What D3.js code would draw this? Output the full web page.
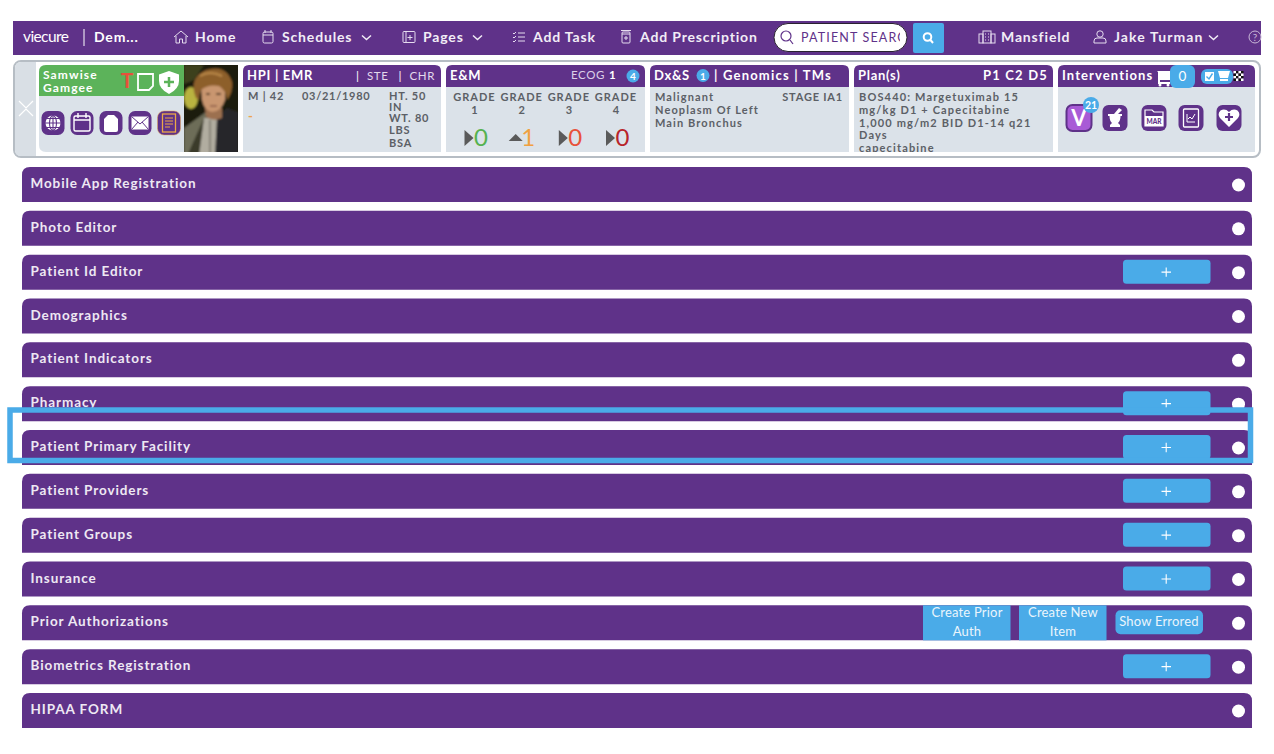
<!DOCTYPE html>
<html>
<head>
<meta charset="utf-8">
<style>
  html, body { margin: 0; padding: 0; background: #fff; overflow: hidden; }
  text { font-family: Lato, "Open Sans", sans-serif; }
</style>
<script src="https://d3js.org/d3.v7.min.js"></script>
</head>
<body>
<div id="page"></div>
<script>
const rowLabels = ["Mobile App Registration", "Photo Editor", "Patient Id Editor", "Demographics", "Patient Indicators", "Pharmacy", "Patient Primary Facility", "Patient Providers", "Patient Groups", "Insurance", "Prior Authorizations", "Biometrics Registration", "HIPAA FORM"];
const rowsWithPlus = ["Patient Id Editor", "Pharmacy", "Patient Primary Facility", "Patient Providers", "Patient Groups", "Insurance", "Biometrics Registration"];
const navLabels = ["Home", "Schedules", "Pages", "Add Task", "Add Prescription", "Mansfield", "Jake Turman"];
const navX = [195, 282, 423, 533, 640, 1001, 1114];
const navIcons = ["home", "cal", "page", "list", "rx", "bldg", "user"];
const navCarets = ["Schedules", "Pages", "Jake Turman"];
const panelTitles = ["HPI | EMR", "E&M", "Dx&S", "Plan(s)", "Interventions"];
const panelX = [243, 446, 650, 854, 1058];
const panelW = [198, 199, 199, 199, 197];
const panelSpacing = [0.7, 0.7, 0.7, 0.7, 1.1];
const grades = ["1", "2", "3", "4"];
const gradeValues = [0, 1, 0, 0];
const gradeColors = ["#55b24f", "#f0a040", "#e8523a", "#b8242a"];
const gradeArrowUp = [false, true, false, false];
const planLines = ["BOS440: Margetuximab 15", "mg/kg D1 + Capecitabine", "1,000 mg/m2 BID D1-14 q21", "Days", "capecitabine"];
const dxLines = ["Malignant", "Neoplasm Of Left", "Main Bronchus"];

const purple = "#5f3289", blue = "#4aabe8", grey = "#dbe2e9", bodyText = "#5c6066";

const svg = d3.select("#page").append("svg").attr("width", 1274).attr("height", 754);
svg.append("rect").attr("width", 1274).attr("height", 754).attr("fill", "#fff");

function label(g, x, y, s, size, fill, o) {
  o = o || {};
  return g.append("text").attr("x", x).attr("y", y).text(s)
    .attr("font-size", size).attr("fill", fill)
    .attr("font-weight", o.weight || 400)
    .attr("letter-spacing", o.ls === undefined ? 0.8 : o.ls)
    .attr("text-anchor", o.anchor || "start");
}

// only the top corners are round on the rows and panel headers
function topRound(x, y, w, h, r) {
  return `M${x},${y + h}V${y + r}Q${x},${y} ${x + r},${y}H${x + w - r}Q${x + w},${y} ${x + w},${y + r}V${y + h}Z`;
}

// ---- nav bar
const nav = svg.append("g");
nav.append("rect").attr("x", 13).attr("y", 21).attr("width", 1248).attr("height", 34).attr("fill", purple);
label(nav, 23, 42, "viecure", 15.5, "#fff", { ls: -0.6 });
nav.append("line").attr("x1", 84).attr("x2", 84).attr("y1", 29).attr("y2", 46).attr("stroke", "#fff");
label(nav, 94, 42, "Dem...", 14, "#fff", { weight: 700 });

function navIcon(kind, x) {
  const g = nav.append("g").attr("transform", `translate(${x},37)`)
    .attr("fill", "none").attr("stroke", "#e6dcef").attr("stroke-width", 1);
  if (kind == "home") g.append("path").attr("d", "M-7,0L0,-6L7,0M-5,-1V6H-1.5V2H1.5V6H5V-1");
  if (kind == "cal") { g.append("rect").attr("x", -5).attr("y", -5).attr("width", 10).attr("height", 11).attr("rx", 1.5); g.append("path").attr("d", "M-5,-2H5M-3,-7V-4M3,-7V-4"); }
  if (kind == "page") { g.append("rect").attr("x", -6).attr("y", -5.5).attr("width", 12).attr("height", 11).attr("rx", 1); g.append("path").attr("d", "M-3,-5.5V5.5M1,-2V3M-1.5,0.5H3.5"); }
  if (kind == "list") g.append("path").attr("d", "M-6,-4L-5,-3L-3,-5M-6,0L-5,1L-3,-1M-6,4L-5,5L-3,3M-1,-4H6M-1,0H6M-1,4H6");
  if (kind == "rx") { g.append("rect").attr("x", -4).attr("y", -5).attr("width", 8).attr("height", 11).attr("rx", 1); g.append("path").attr("d", "M-5,-6.5H5M-4,-3H4M0,-1V3M-2,1H2"); }
  if (kind == "bldg") { g.append("rect").attr("x", -4).attr("y", -6).attr("width", 8).attr("height", 12); g.append("rect").attr("x", -8).attr("y", -3).attr("width", 4).attr("height", 9); g.append("rect").attr("x", 4).attr("y", -3).attr("width", 4).attr("height", 9); g.append("path").attr("d", "M-2,-3H-1M1,-3H2M-2,0H-1M1,0H2M-2,3H-1M1,3H2"); }
  if (kind == "user") { g.append("circle").attr("cy", -3).attr("r", 3.2); g.append("path").attr("d", "M-6,6V4Q-6,1 -3,1H3Q6,1 6,4V6Z"); }
}
navLabels.forEach((s, i) => {
  label(nav, navX[i], 42, s, 14, "#f2edf6", { weight: 700, ls: s == "Jake Turman" ? 1.1 : 0.85 });
  navIcon(navIcons[i], navX[i] - 14);
});
nav.selectAll("path.caret").data(navCarets).join("path").attr("class", "caret")
  .attr("d", "M0,0L4.5,4L9,0").attr("fill", "none").attr("stroke", "#f2edf6").attr("stroke-width", 1.5)
  .attr("transform", d => `translate(${({ Schedules: 362, Pages: 473, "Jake Turman": 1209 })[d]},35.5)`);

// search box
nav.append("rect").attr("x", 774).attr("y", 23.5).attr("width", 133).attr("height", 28).attr("rx", 14)
  .attr("fill", "#fff").attr("stroke", "#2a2230").attr("stroke-width", 1);
nav.append("circle").attr("cx", 786).attr("cy", 36).attr("r", 5).attr("fill", "none").attr("stroke", purple).attr("stroke-width", 1.2);
nav.append("line").attr("x1", 790).attr("y1", 40).attr("x2", 793).attr("y2", 44).attr("stroke", purple).attr("stroke-width", 1.2);
const clip = svg.append("clipPath").attr("id", "searchClip");
clip.append("rect").attr("x", 798).attr("y", 24).attr("width", 102).attr("height", 26);
label(nav, 801, 42, "PATIENT SEARCH", 12.5, purple, { weight: 400, ls: 1.15 }).attr("clip-path", "url(#searchClip)");
nav.append("rect").attr("x", 913).attr("y", 23).attr("width", 31).attr("height", 30).attr("rx", 2).attr("fill", blue);
nav.append("circle").attr("cx", 927.5).attr("cy", 37).attr("r", 3.8).attr("fill", "none").attr("stroke", "#fff").attr("stroke-width", 2);
nav.append("line").attr("x1", 930.5).attr("y1", 40).attr("x2", 933).attr("y2", 43).attr("stroke", "#fff").attr("stroke-width", 2);
nav.append("circle").attr("cx", 1255).attr("cy", 37).attr("r", 6).attr("fill", "none").attr("stroke", "#c9b8d8");
label(nav, 1255, 41, "?", 10, "#c9b8d8", { anchor: "middle", ls: 0 });

// ---- patient card
const card = svg.append("g");
card.append("rect").attr("x", 14).attr("y", 61).attr("width", 1246).attr("height", 96).attr("rx", 7)
  .attr("fill", "#fff").attr("stroke", "#b6bdc4").attr("stroke-width", 2);
card.append("path").attr("d", "M15,68Q15,62 21,62H36V156H21Q15,156 15,150Z").attr("fill", "#d9dfe5");
card.append("path").attr("d", "M19,101L26,108L33,101M19,116L26,109L33,116").attr("fill", "none").attr("stroke", "#fff").attr("stroke-width", 1.2);
card.append("path").attr("d", "M39,152V72Q39,65 46,65H184V152H46Q39,152 39,145Z").attr("fill", grey);
card.append("path").attr("d", "M39,96V72Q39,65 46,65H184V96Z").attr("fill", "#5cb35a");
label(card, 43, 79, "Samwise", 12, "#fff", { weight: 700, ls: 1.1 });
label(card, 43, 92, "Gamgee", 12, "#fff", { weight: 700, ls: 1.1 });
label(card, 127, 88, "T", 21, "#e8503a", { weight: 700, anchor: "middle", ls: 0 });
card.append("path").attr("d", "M138,74H153V86L149,90H138Z").attr("fill", "#5cb35a").attr("stroke", "#fff").attr("stroke-width", 1.8);
card.append("path").attr("d", "M169,71L179,74.5V81Q179,89 169,94Q159,89 159,81V74.5Z").attr("fill", "#fff");
card.append("path").attr("d", "M169,77V87M164,82H174").attr("stroke", "#5cb35a").attr("stroke-width", 2.5);

// small round-cornered patient action buttons
const patientIcons = [53, 82, 111, 140, 169];
patientIcons.forEach((x, i) => {
  const g = card.append("g").attr("transform", `translate(${x},123)`);
  g.append("rect").attr("x", -11.5).attr("y", -12).attr("width", 23).attr("height", 24).attr("rx", 6.5).attr("fill", purple);
  if (i == 0) { g.append("circle").attr("r", 7.5).attr("fill", "#fff"); g.append("path").attr("d", "M-8,0H8M0,-8V8M-6,-4.5H6M-6,4.5H6").attr("stroke", purple).attr("stroke-width", 1.1); g.append("ellipse").attr("rx", 3.5).attr("ry", 7.5).attr("fill", "none").attr("stroke", purple).attr("stroke-width", 1.1); }
  if (i == 1) { g.append("rect").attr("x", -8).attr("y", -7).attr("width", 16).attr("height", 15).attr("rx", 1.5).attr("fill", purple).attr("stroke", "#fff").attr("stroke-width", 1.4); g.append("path").attr("d", "M-8,-3H8M-4,-10V-5M4,-10V-5").attr("stroke", "#fff").attr("stroke-width", 1.4); }
  if (i == 2) g.append("path").attr("d", "M-3,-8H3L7,-4V7Q7,9 5,9H-5Q-7,9 -7,7V-4Z").attr("fill", "#fff");
  if (i == 3) { g.append("rect").attr("x", -8.5).attr("y", -6.5).attr("width", 17).attr("height", 13).attr("fill", "#fff"); g.append("path").attr("d", "M-8.5,-6.5L0,1L8.5,-6.5M-8.5,6.5L-2,-1M8.5,6.5L2,-1").attr("fill", "none").attr("stroke", purple); }
  if (i == 4) { g.select("rect").attr("stroke", "#e8a64a").attr("stroke-width", 0.5); g.append("rect").attr("x", -6.5).attr("y", -9).attr("width", 13).attr("height", 18).attr("fill", "none").attr("stroke", "#eba846").attr("stroke-width", 1.3); g.append("path").attr("d", "M-4,-5H4M-4,-2H4M-4,1H4M-4,4H1").attr("stroke", "#eba846").attr("stroke-width", 1.2); }
});

// portrait, built from rough shapes since the sandbox has no image to load
const blur = svg.append("filter").attr("id", "soft").attr("x", "-10%").attr("y", "-10%").attr("width", "120%").attr("height", "120%");
blur.append("feGaussianBlur").attr("stdDeviation", 0.9);
const photoClip = svg.append("clipPath").attr("id", "photoClip");
photoClip.append("rect").attr("x", 184).attr("y", 65).attr("width", 54).attr("height", 87);
const photo = card.append("g").attr("clip-path", "url(#photoClip)").append("g").attr("filter", "url(#soft)");
photo.append("rect").attr("x", 180).attr("y", 60).attr("width", 62).attr("height", 96).attr("fill", "#1e1d10");
photo.append("path").attr("d", "M184,65H204L194,80L184,84Z").attr("fill", "#3c3f1e");
photo.append("ellipse").attr("cx", 191).attr("cy", 98).attr("rx", 7).attr("ry", 11).attr("fill", "#b9b341");
photo.append("path").attr("d", "M184,156V128L206,112L210,156Z").attr("fill", "#6d6d58");
photo.append("path").attr("d", "M187,156L204,118L208,156Z").attr("fill", "#3b3b2c");
photo.append("path").attr("d", "M204,118L218,118L216,156H199Z").attr("fill", "#b1ada0");
photo.append("path").attr("d", "M210,120V156").attr("stroke", "#6a675c").attr("stroke-width", 1.2);
photo.append("path").attr("d", "M217,117L227,108L238,112V156H215Z").attr("fill", "#26262a");
photo.append("path").attr("d", "M205,108H222V118Q214,122 206,117Z").attr("fill", "#9c6f50");
photo.append("path").attr("d", "M201,88Q212,80 225,88L225,100Q221,112 212,112Q204,110 202,100Z").attr("fill", "#c9966f");
photo.append("path").attr("d", "M196,98Q188,78 206,70Q226,64 232,82Q233,92 227,100Q226,90 219,86Q208,84 201,90Q199,94 199,100Z").attr("fill", "#8d5f2c");
photo.append("path").attr("d", "M200,76Q210,70 222,76").attr("fill", "none").attr("stroke", "#bb8a48").attr("stroke-width", 2);
photo.append("path").attr("d", "M206,94H210M216,94H221").attr("stroke", "#3a2615").attr("stroke-width", 1.5);
photo.append("path").attr("d", "M210,106H217").attr("stroke", "#7d4c3a").attr("stroke-width", 1.2);

// ---- info panels
panelTitles.forEach((t, i) => {
  const x = panelX[i], w = panelW[i];
  card.append("rect").attr("x", x).attr("y", 80).attr("width", w).attr("height", 72).attr("fill", grey);
  card.append("path").attr("d", topRound(x, 65, w, 22, 6)).attr("fill", purple);
  label(card, x + 4, 80, t, 13, "#fff", { weight: 700, ls: panelSpacing[i] });
});

// HPI body
label(card, 435, 80, "CHR", 11.5, "#e3d9ec", { anchor: "end", ls: 0.6 });
label(card, 398.5, 80, "|", 12, "#fff", { ls: 0 });
label(card, 367, 80, "STE", 11.5, "#e3d9ec", { ls: 0.6 });
label(card, 356, 80, "|", 12, "#fff", { ls: 0 });
label(card, 248, 100, "M | 42", 11, bodyText, { weight: 700 });
label(card, 302, 100, "03/21/1980", 11, bodyText, { weight: 700, ls: 0.7 });
["HT. 50", "IN", "WT. 80", "LBS", "BSA"].forEach((s, i) => label(card, 389, 100 + [0, 11, 22, 34, 47][i], s, 11, bodyText, { weight: 700 }));
label(card, 248, 121, "-", 13, "#eda44c", { weight: 700 });

// E&M body
label(card, 605, 79, "ECOG", 11.5, "#dcd0e8", { anchor: "end", ls: 0.6 });
label(card, 609, 79, "1", 11.5, "#fff", { weight: 700, ls: 0 });
card.append("circle").attr("cx", 633).attr("cy", 76).attr("r", 6.5).attr("fill", blue);
label(card, 633, 80, "4", 10, "#fff", { weight: 700, anchor: "middle", ls: 0 });
const gradeX = d3.scalePoint().domain(grades).range([474.5, 616]);
grades.forEach((g, i) => {
  const x = gradeX(g);
  label(card, x, 101, "GRADE", 11, bodyText, { weight: 700, anchor: "middle", ls: 1 });
  label(card, x, 114, g, 11, bodyText, { weight: 700, anchor: "middle", ls: 0 });
  label(card, x + 6.5, 146, gradeValues[i], 24, gradeColors[i], { anchor: "middle", ls: 0 });
  const arrow = gradeArrowUp[i] ? `M${x - 13},141L${x - 6},134L${x + 1},141Z` : `M${x - 10},130L${x - 1},138L${x - 10},146Z`;
  card.append("path").attr("d", arrow).attr("fill", "#5a5a5a");
});

// Dx body
card.append("circle").attr("cx", 703).attr("cy", 75.5).attr("r", 6.5).attr("fill", blue);
label(card, 703, 79.5, "1", 10, "#fff", { weight: 700, anchor: "middle", ls: 0 });
label(card, 714, 80, "| Genomics | TMs", 13, "#fff", { weight: 700, ls: 1.2 });
dxLines.forEach((s, i) => label(card, 655, 101 + i * 13, s, 11, bodyText, { weight: 700, ls: 1.1 }));
label(card, 843, 101, "STAGE IA1", 11, bodyText, { weight: 700, anchor: "end" });

// Plan body
label(card, 1048, 80, "P1 C2 D5", 13, "#fff", { weight: 700, anchor: "end", ls: 1.2 });
const planClip = svg.append("clipPath").attr("id", "planClip");
planClip.append("rect").attr("x", 854).attr("y", 87).attr("width", 199).attr("height", 65);
planLines.forEach((s, i) => label(card, 859, 101 + i * 12.8, s, 11, bodyText, { weight: 700, ls: 1.15 }).attr("clip-path", "url(#planClip)"));

// Interventions header and icons
card.append("path").attr("d", "M1157,71H1172L1170,80H1160V82H1170V84H1158V72Z").attr("fill", "#fff");
card.append("circle").attr("cx", 1160).attr("cy", 85).attr("r", 1.5).attr("fill", "#fff");
card.append("circle").attr("cx", 1168).attr("cy", 85).attr("r", 1.5).attr("fill", "#fff");
card.append("rect").attr("x", 1170).attr("y", 65).attr("width", 25).attr("height", 23).attr("rx", 6).attr("fill", blue);
label(card, 1182.5, 81, "0", 13.5, "#fff", { anchor: "middle", ls: 0 });
card.append("rect").attr("x", 1201).attr("y", 69).attr("width", 32).attr("height", 15).attr("rx", 6).attr("fill", blue);
card.append("rect").attr("x", 1205).attr("y", 72).attr("width", 9).attr("height", 9).attr("fill", "#fff");
card.append("path").attr("d", "M1206.5,76.5L1209,79L1212.5,73.5").attr("fill", "none").attr("stroke", blue).attr("stroke-width", 1.4);
card.append("path").attr("d", "M1218,71H1230L1228,78H1220ZM1220,79H1228V81H1220Z").attr("fill", "#fff");
card.selectAll("rect.chk").data(d3.cross(d3.range(4), d3.range(4))).join("rect").attr("class", "chk")
  .attr("x", d => 1233.5 + d[0] * 2.5).attr("y", d => 71 + d[1] * 2.5).attr("width", 2.5).attr("height", 2.5)
  .attr("fill", d => (d[0] + d[1]) % 2 ? "#111" : "#fff");

const actionX = [1079, 1115, 1154, 1191, 1229];
actionX.forEach((x, i) => {
  const g = card.append("g").attr("transform", `translate(${x},118)`);
  g.append("rect").attr("x", -12.5).attr("y", -13).attr("width", 25).attr("height", 26).attr("rx", 6).attr("fill", purple);
  if (i == 0) {
    g.select("rect").attr("fill", "#a85bd6").attr("stroke", purple).attr("stroke-width", 2);
    label(g, 0, 8, "V", 22, "#fff", { weight: 700, anchor: "middle", ls: 0 });
  }
  if (i == 1) g.append("path").attr("d", "M-7,-4H-1L4,-10L7,-8L3,-4H7V-2H5.5Q5.5,3 3,5L5,7V9H-5V7L-3,5Q-5.5,3 -5.5,-2H-7Z").attr("fill", "#fff");
  if (i == 2) {
    g.append("path").attr("d", "M-9,-8H-2L0,-6H9V8H-9Z").attr("fill", "none").attr("stroke", "#fff").attr("stroke-width", 1.2);
    g.append("rect").attr("x", -9).attr("y", -2).attr("width", 18).attr("height", 10).attr("fill", "#fff");
    label(g, 0, 6, "MAR", 6.5, purple, { weight: 900, anchor: "middle", ls: 0 });
  }
  if (i == 3) {
    g.append("rect").attr("x", -7.5).attr("y", -9).attr("width", 15).attr("height", 18).attr("rx", 1).attr("fill", "none").attr("stroke", "#fff").attr("stroke-width", 1.3);
    g.append("path").attr("d", "M-4,-4V4H4M-3,1L-1,-1L1,1L4,-4").attr("fill", "none").attr("stroke", "#fff").attr("stroke-width", 1);
  }
  if (i == 4) {
    g.append("path").attr("d", "M0,9L-9,0Q-12,-4 -8.5,-7.5Q-4,-10 0,-6Q4,-10 8.5,-7.5Q12,-4 9,0Z").attr("fill", "#fff");
    g.append("path").attr("d", "M0,-5V3M-4,-1H4").attr("stroke", purple).attr("stroke-width", 2.2);
  }
});
card.append("circle").attr("cx", 1091).attr("cy", 105).attr("r", 8).attr("fill", blue);
label(card, 1091, 109, "21", 10.5, "#fff", { weight: 700, anchor: "middle", ls: 0 });

// ---- accordion rows
const rowY = d3.scalePoint().domain(rowLabels).range([167, 693]);
const rows = svg.append("g");
rows.selectAll("path.row").data(rowLabels).join("path").attr("class", "row")
  .attr("d", d => topRound(22, rowY(d), 1230, 35, 8)).attr("fill", purple);
rows.selectAll("text.rowLabel").data(rowLabels).join("text").attr("class", "rowLabel")
  .attr("x", 30.5).attr("y", d => rowY(d) + 21).text(d => d)
  .attr("font-size", 13.5).attr("font-weight", 700).attr("fill", "#eee8f3").attr("letter-spacing", 0.9);
rows.selectAll("circle.dot").data(rowLabels).join("circle").attr("class", "dot")
  .attr("cx", 1238.5).attr("cy", d => rowY(d) + 18).attr("r", 6.5).attr("fill", "#fff");
rows.selectAll("rect.plus").data(rowsWithPlus).join("rect").attr("class", "plus")
  .attr("x", 1123).attr("y", d => rowY(d) + 5).attr("width", 87.5).attr("height", 24).attr("rx", 3.5).attr("fill", blue);
rows.selectAll("path.plusSign").data(rowsWithPlus).join("path").attr("class", "plusSign")
  .attr("d", d => `M1161.5,${rowY(d) + 17.5}H1171M1166.2,${rowY(d) + 12.8}V${rowY(d) + 22.2}`)
  .attr("stroke", "#fff").attr("stroke-width", 1.1);

// prior auth buttons
const authY = rowY("Prior Authorizations");
rows.append("rect").attr("x", 923).attr("y", authY).attr("width", 87.5).attr("height", 35).attr("fill", blue);
rows.append("rect").attr("x", 1019).attr("y", authY).attr("width", 87.5).attr("height", 35).attr("fill", blue);
rows.append("rect").attr("x", 1115.5).attr("y", authY + 5).attr("width", 87.5).attr("height", 24).attr("rx", 5).attr("fill", blue);
label(rows, 967, authY + 12, "Create Prior", 13, "#eaf5fc", { anchor: "middle", ls: 0.2 });
label(rows, 967, authY + 31, "Auth", 13, "#eaf5fc", { anchor: "middle", ls: 0.2 });
label(rows, 1063, authY + 12, "Create New", 13, "#eaf5fc", { anchor: "middle", ls: 0.2 });
label(rows, 1063, authY + 31, "Item", 13, "#eaf5fc", { anchor: "middle", ls: 0.2 });
label(rows, 1159, authY + 21, "Show Errored", 13, "#eaf5fc", { anchor: "middle", ls: 0.2 });

// ---- highlight box
svg.append("rect").attr("x", 10).attr("y", 410).attr("width", 1240.5).attr("height", 50.5)
  .attr("fill", "none").attr("stroke", blue).attr("stroke-width", 5.5);
</script>
</body>
</html>
